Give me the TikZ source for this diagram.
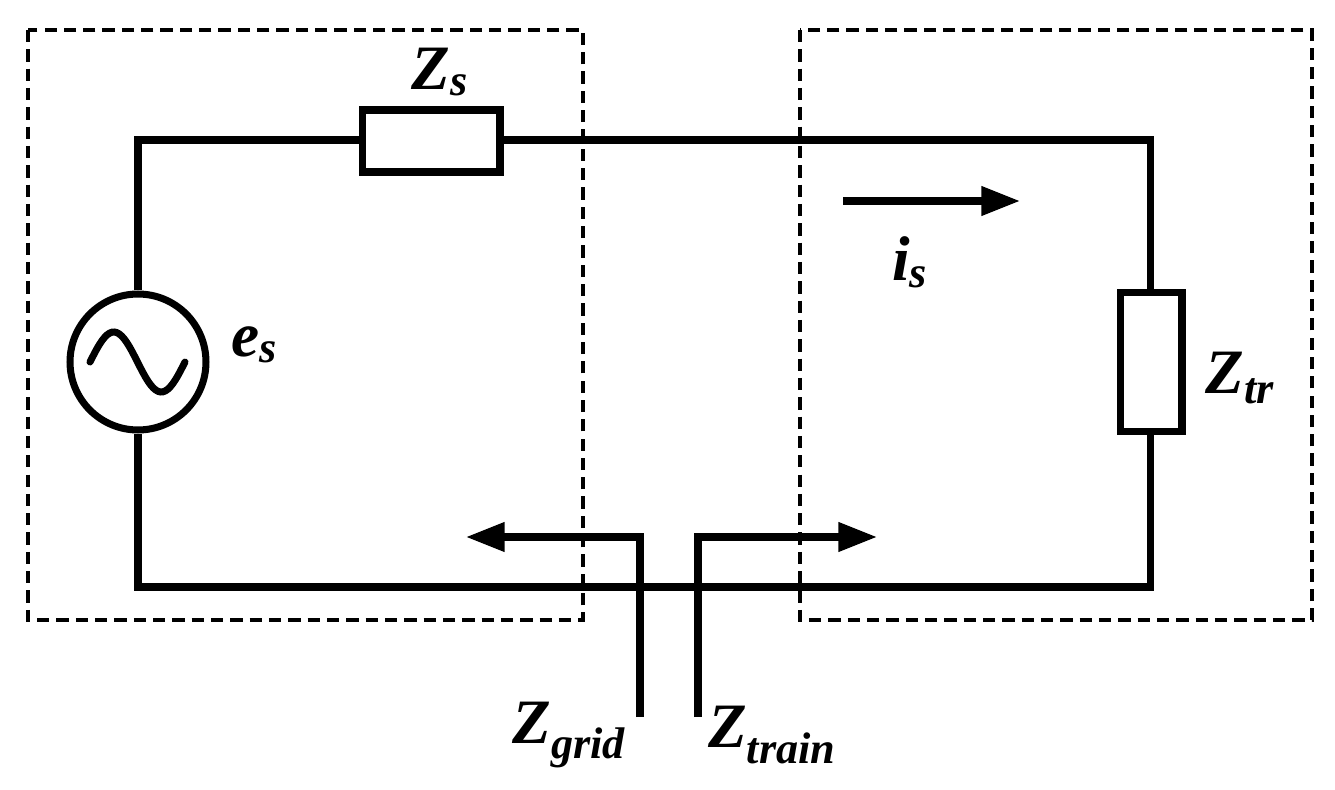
\documentclass[tikz,border=0pt]{standalone}
\usepackage{fontspec}
\setmainfont{Liberation Serif}
\usetikzlibrary{arrows.meta}
\begin{document}
\begin{tikzpicture}[x=0.02cm,y=-0.02cm,
  wire/.style={line width=4pt,line join=miter},
  dbox/.style={line width=2.8pt,dash pattern=on 7pt off 4pt},
  comp/.style={draw,line width=4pt,fill=white,inner sep=0pt},
  lbl/.style={font=\fontsize{36}{40}\selectfont\bfseries\itshape},
  arr/.style={wire,-{Triangle[length=22pt,width=16pt]}}]
\useasboundingbox (0,0) rectangle (1335,790);
\draw[dbox] (28,30) rectangle (583,620);
\draw[dbox] (800,30) rectangle (1312,620);
\coordinate (tl) at (138,140); \coordinate (tr) at (1150,140);
\coordinate (bl) at (138,587); \coordinate (br) at (1150,587);
\node[draw,circle,line width=4pt,minimum size=2.72cm] (src) at (138,362) {};
\draw[wire] (src.north) -- (tl) -- (tr) -- (br) -- (bl) -- (src.south);
\node[comp,minimum width=2.76cm,minimum height=1.24cm] (zs) at (431,141) {};
\node[comp,minimum width=1.24cm,minimum height=2.78cm] (ztr) at (1151,362) {};
\draw[wire,line cap=round] plot[domain=0:1,samples=40] ({90+95*\x},{362-30*sin(360*\x)});
\node[lbl] (lzs) at (440,72) {Z\textsubscript{s}};
\node[lbl] (lztr) at (1240,378) {Z\textsubscript{tr}};
\node[lbl] (les) at (255,345) {e\textsubscript{s}};
\coordinate (ia) at (843,201); \coordinate (ib) at (1020,201);
\draw[arr] (ia) -- (ib);
\node[lbl] (lis) at (910,262) {i\textsubscript{s}};
\coordinate (g0) at (640,717); \coordinate (g1) at (640,537); \coordinate (g2) at (466,537);
\coordinate (t0) at (698,717); \coordinate (t1) at (698,537); \coordinate (t2) at (877,537);
\draw[arr] (g0) -- (g1) -- (g2);
\draw[arr] (t0) -- (t1) -- (t2);
\node[lbl,anchor=east] (lg) at (632,735) {Z\textsubscript{grid}};
\node[lbl,anchor=west] (lt) at (702,735) {Z\textsubscript{train}};
\end{tikzpicture}
\end{document}
